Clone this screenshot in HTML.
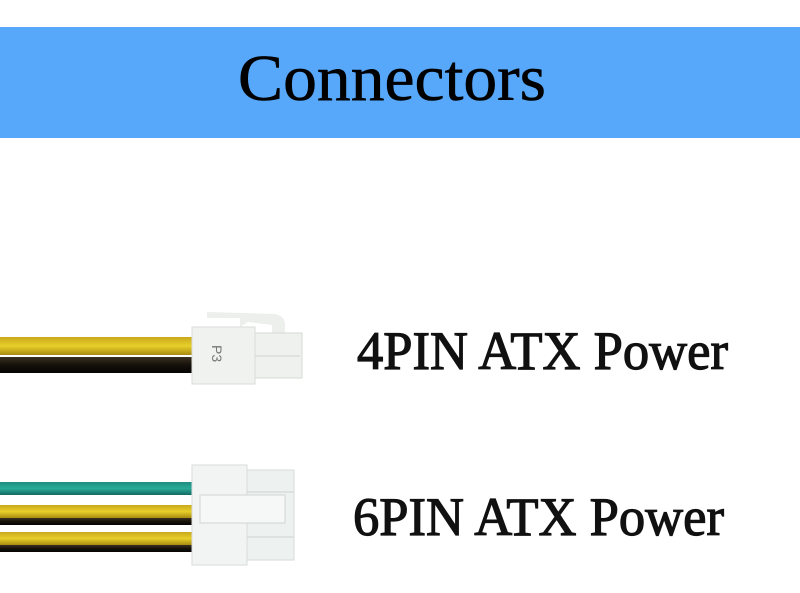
<!DOCTYPE html>
<html><head><style>html,body{margin:0;padding:0;background:#fff;width:800px;height:593px;overflow:hidden}</style></head>
<body>
<svg width="800" height="593" viewBox="0 0 800 593" xmlns="http://www.w3.org/2000/svg">
<defs>
<linearGradient id="y" x1="0" y1="0" x2="0" y2="1"><stop offset="0" stop-color="#c9a81c"/><stop offset="0.5" stop-color="#e8cf2a"/><stop offset="1" stop-color="#a88a10"/></linearGradient>
<linearGradient id="k" x1="0" y1="0" x2="0" y2="1"><stop offset="0" stop-color="#3a3020"/><stop offset="0.5" stop-color="#15110a"/><stop offset="1" stop-color="#050403"/></linearGradient>
<linearGradient id="g" x1="0" y1="0" x2="0" y2="1"><stop offset="0" stop-color="#1f8d80"/><stop offset="0.5" stop-color="#2aaa98"/><stop offset="1" stop-color="#146a60"/></linearGradient>
</defs>
<rect x="0" y="27" width="800" height="111" fill="#57a8fb"/>
<text x="238" y="100" font-family="Liberation Serif, serif" font-size="66" textLength="308" lengthAdjust="spacingAndGlyphs" fill="#000" stroke="#000" stroke-width="0.6">Connectors</text>

<!-- 4pin -->
<rect x="0" y="337" width="194" height="18" fill="url(#y)"/>
<rect x="0" y="357" width="194" height="16" fill="url(#k)"/>
<path d="M207 312 L275 314 Q285 316 285 325 L285 333 L272 333 L272 325 L248 322 L240 327 L240 318 L207 318 Z" fill="#ecefec"/>
<rect x="255" y="333" width="47" height="45" fill="#eef1ee" stroke="#d6dad6"/>
<line x1="255" y1="356" x2="300" y2="356" stroke="#cfd3cf"/>
<rect x="192" y="327" width="63" height="57" fill="#f0f2f0" stroke="#d8dcd8"/>
<text x="0" y="0" transform="translate(212 345) rotate(90)" font-family="Liberation Sans, sans-serif" font-size="14" fill="#777">P3</text>
<text x="357" y="369" font-family="Liberation Serif, serif" font-size="54" textLength="371" lengthAdjust="spacingAndGlyphs" fill="#111" stroke="#111" stroke-width="1.2">4PIN ATX Power</text>

<!-- 6pin -->
<rect x="0" y="482" width="194" height="13" fill="url(#g)"/>
<rect x="0" y="505" width="194" height="13" fill="url(#y)"/>
<rect x="0" y="518" width="194" height="7" fill="url(#k)"/>
<rect x="0" y="532" width="194" height="13" fill="url(#y)"/>
<rect x="0" y="545" width="194" height="7" fill="url(#k)"/>
<rect x="247" y="470" width="47" height="90" fill="#edf1f0" stroke="#d6dbda"/>
<line x1="247" y1="492" x2="294" y2="492" stroke="#cdd2d1"/>
<line x1="247" y1="537" x2="294" y2="537" stroke="#cdd2d1"/>
<rect x="192" y="465" width="55" height="100" fill="#f1f4f3" stroke="#d6dbda"/>
<rect x="200" y="495" width="85" height="28" fill="#f6f8f7" stroke="#d0d5d4"/>
<text x="353" y="535" font-family="Liberation Serif, serif" font-size="54" textLength="371" lengthAdjust="spacingAndGlyphs" fill="#111" stroke="#111" stroke-width="1.2">6PIN ATX Power</text>
</svg>
</body></html>
